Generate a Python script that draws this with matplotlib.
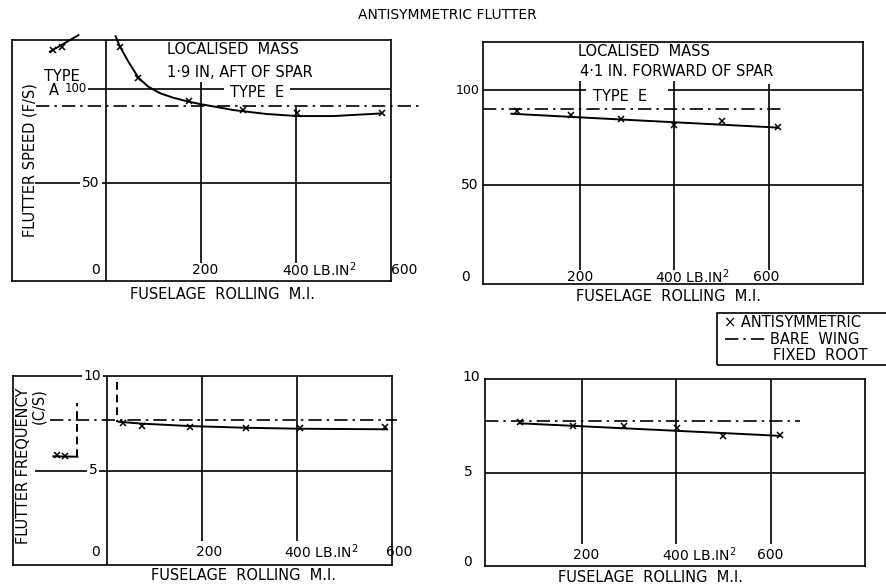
import matplotlib
matplotlib.use("Agg")
import matplotlib.pyplot as plt
from matplotlib.lines import Line2D
from matplotlib.patches import Rectangle

# ---- data ----
# top left: flutter speed, mass 1.9 in aft of spar
tl_mi = [29.5, 68, 175, 289, 403, 580]
tl_speed = [122.4, 106, 93.7, 88.8, 87, 87.4]
tl_curve_mi = [20, 29.5, 47, 68, 89, 114, 142, 175, 198, 268, 338, 403, 478, 580]
tl_curve_speed = [128, 122.4, 114.5, 106, 101.2, 97.7, 95.3, 93.2, 92, 88.8, 86.7, 85.6, 85.6, 87]
tl_typeA_mi = [-111, -93]
tl_typeA_speed = [120.7, 122.4]
tl_typeA_line_mi = [-118, -58]
tl_typeA_line_speed = [119.8, 128.6]
tl_bare = 90.9

# top right: flutter speed, mass 4.1 in forward of spar
tr_mi = [67, 182, 288, 400, 501, 620]
tr_speed = [89, 86.8, 85.1, 81.9, 83.9, 80.7]
tr_curve_mi = [55, 300, 620]
tr_curve_speed = [87.7, 84.5, 80.4]
tr_bare = 90.4

# bottom left: flutter frequency, mass aft
bl_mi = [33, 73, 174, 292, 406, 585]
bl_freq = [7.53, 7.35, 7.32, 7.23, 7.26, 7.32]
bl_curve_mi = [24, 73, 175, 294, 406, 589]
bl_curve_freq = [7.58, 7.48, 7.35, 7.26, 7.21, 7.18]
bl_typeA_mi = [-106, -88]
bl_typeA_freq = [5.82, 5.77]
bl_typeA_line_mi = [-113, -62.5]
bl_typeA_line_freq = [5.75, 5.73]
bl_jump_top = 9.7
bl_typeA_jump_top = 8.55
bl_bare = 7.67

# bottom right: flutter frequency, mass forward
br_mi = [69, 182, 290, 401, 500, 620]
br_freq = [7.68, 7.5, 7.48, 7.36, 6.95, 7.0]
br_curve_mi = [69, 401, 620]
br_curve_freq = [7.63, 7.23, 6.96]
br_bare = 7.75

mi_ticks = [200, 400, 600]
speed_ticks = [0, 50, 100]
freq_ticks = [0, 5, 10]
unit = r" LB.$\mathregular{IN^2}$"

# ---- figure ----
W, H = 886, 588
fig = plt.figure(figsize=(W / 100, H / 100), dpi=100)
plt.rcParams['font.family'] = ['DejaVu Sans']

LW = 1.2
DD = (0, (8, 3, 1.5, 3))
FS = 10.5    # annotation text
TS = 10      # tick labels
WHITE = dict(facecolor='white', edgecolor='none', pad=1.5)


def px(l, t, r, b):
    return [l / W, 1 - b / H, (r - l) / W, (b - t) / H]


def setup(ax, xlim, ylim):
    ax.set_xlim(*xlim)
    ax.set_ylim(*ylim)
    ax.set_xticks([])
    ax.set_yticks([])
    for s in ax.spines.values():
        s.set_linewidth(LW)


def ftext(x, y, s, size=FS, **kw):
    fig.text(x / W, 1 - y / H, s, fontsize=size, ha='center', va='center', **kw)


ftext(447, 15, "ANTISYMMETRIC FLUTTER", size=10)

# top left
ax = fig.add_axes(px(12, 40, 391, 281))
setup(ax, (-198, 600), (-2, 126))
ax.axvline(0, color='k', lw=LW)
ax.hlines(speed_ticks[1], -149, 600, color='k', lw=LW)
ax.hlines(speed_ticks[2], -38, 600, color='k', lw=LW)
ax.vlines(mi_ticks[0], 7.5, 104.7, color='k', lw=LW)
ax.vlines(mi_ticks[1], 7.5, 90.4, color='k', lw=LW)
ax.plot([-148, 665], [tl_bare, tl_bare], color='k', lw=LW, ls=DD, clip_on=False)
ax.plot(tl_curve_mi, tl_curve_speed, color='k', lw=1.4, clip_on=False)
ax.plot(tl_mi, tl_speed, 'x', color='k', ms=5, mew=1.1)
ax.plot(tl_typeA_line_mi, tl_typeA_line_speed, color='k', lw=1.4, clip_on=False)
ax.plot(tl_typeA_mi, tl_typeA_speed, 'x', color='k', ms=5, mew=1.1)
ax.text(-23, 3.8, str(speed_ticks[0]), fontsize=TS, ha='center', va='center')
ax.text(-32, speed_ticks[1], str(speed_ticks[1]), fontsize=TS, ha='center', va='center', bbox=WHITE)
ax.text(-40, speed_ticks[2], str(speed_ticks[2]), fontsize=8.5, ha='right', va='center')
ax.text(-110, 99.4, "A", fontsize=FS, ha='center', va='center')
ax.text(-93, 106.8, "TYPE", fontsize=FS, ha='center', va='center')
ax.text(208, 3.8, str(mi_ticks[0]), fontsize=TS, ha='center', va='center')
ax.text(371, 3.8, str(mi_ticks[1]) + unit, fontsize=TS, ha='left', va='center')
ax.text(627, 3.8, str(mi_ticks[2]), fontsize=TS, ha='center', va='center')
ax.text(267, 120.7, "LOCALISED  MASS", fontsize=FS, ha='center', va='center')
ax.text(282, 109, "1·9 IN, AFT OF SPAR", fontsize=FS, ha='center', va='center', bbox=WHITE)
ax.text(318, 98.3, "TYPE  E", fontsize=FS, ha='center', va='center',
        bbox=dict(facecolor='white', edgecolor='none', pad=4))
ftext(30, 160, "FLUTTER SPEED (F/S)", rotation=90)
ftext(222, 295, "FUSELAGE  ROLLING  M.I.")

# top right
ax = fig.add_axes(px(483, 42, 863, 284))
setup(ax, (-5, 800), (-2, 125.5))
ax.hlines(speed_ticks[2], -5, 214, color='k', lw=LW)
ax.hlines(speed_ticks[2], 387, 800, color='k', lw=LW)
ax.hlines(speed_ticks[1], -5, 800, color='k', lw=LW)
ax.vlines(mi_ticks[0], 5.4, 110.5, color='k', lw=LW)
ax.vlines(mi_ticks[1], 5.4, 115, color='k', lw=LW)
ax.vlines(mi_ticks[2], 5.4, 103.6, color='k', lw=LW)
ax.plot([-5, 630], [tr_bare, tr_bare], color='k', lw=LW, ls=DD)
ax.plot(tr_curve_mi, tr_curve_speed, color='k', lw=1.4)
ax.plot(tr_mi, tr_speed, 'x', color='k', ms=5, mew=1.1)
ax.text(-43, 1.8, str(speed_ticks[0]), fontsize=TS, ha='center', va='center')
ax.text(-14, speed_ticks[1], str(speed_ticks[1]), fontsize=TS, ha='right', va='center')
ax.text(-12, speed_ticks[2], str(speed_ticks[2]), fontsize=9, ha='right', va='center')
ax.text(200, 1.8, str(mi_ticks[0]), fontsize=TS, ha='center', va='center')
ax.text(360, 1.8, str(mi_ticks[1]) + unit, fontsize=TS, ha='left', va='center')
ax.text(594, 1.8, str(mi_ticks[2]), fontsize=TS, ha='center', va='center')
ax.text(336, 120.4, "LOCALISED  MASS", fontsize=FS, ha='center', va='center')
ax.text(406, 109.9, "4·1 IN. FORWARD OF SPAR", fontsize=FS, ha='center', va='center', bbox=WHITE)
ax.text(285, 96.7, "TYPE  E", fontsize=FS, ha='center', va='center')
ftext(668, 297, "FUSELAGE  ROLLING  M.I.")

# bottom left
ax = fig.add_axes(px(13, 376, 392, 565))
setup(ax, (-198, 600), (0, 10))
ax.axvline(0, color='k', lw=LW)
ax.hlines(freq_ticks[1], -152, 600, color='k', lw=LW)
ax.vlines(mi_ticks[0], 1.25, 10, color='k', lw=LW)
ax.vlines(mi_ticks[1], 1.25, 10, color='k', lw=LW)
ax.plot([-120, 610], [bl_bare, bl_bare], color='k', lw=LW, ls=DD, clip_on=False)
ax.plot([bl_curve_mi[0] - 4] * 2, [bl_jump_top, bl_curve_freq[0]], color='k', lw=1.4, ls=(0, (4, 2.5)))
ax.plot(bl_curve_mi, bl_curve_freq, color='k', lw=1.4)
ax.plot(bl_mi, bl_freq, 'x', color='k', ms=5, mew=1.1)
ax.plot(bl_typeA_line_mi, bl_typeA_line_freq, color='k', lw=1.4)
ax.plot([bl_typeA_line_mi[-1]] * 2, [bl_typeA_line_freq[-1], bl_typeA_jump_top], color='k', lw=1.4,
        ls=(0, (4, 2.5)))
ax.plot(bl_typeA_mi, bl_typeA_freq, 'x', color='k', ms=5, mew=1.1)
ax.text(-25, 0.7, str(freq_ticks[0]), fontsize=TS, ha='center', va='center')
ax.text(-29.5, freq_ticks[1], str(freq_ticks[1]), fontsize=TS, ha='center', va='center', bbox=WHITE)
ax.text(-30.5, freq_ticks[2], str(freq_ticks[2]), fontsize=TS, ha='center', va='center', bbox=WHITE)
ax.text(215, 0.7, str(mi_ticks[0]), fontsize=TS, ha='center', va='center')
ax.text(373, 0.7, str(mi_ticks[1]) + unit, fontsize=TS, ha='left', va='center')
ax.text(615, 0.7, str(mi_ticks[2]), fontsize=TS, ha='center', va='center')
fig.text(31 / W, 1 - 466 / H, "FLUTTER FREQUENCY\n(C/S)", fontsize=FS, rotation=90,
         ha='center', va='center', multialignment='right', linespacing=1.0)
ftext(243, 576, "FUSELAGE  ROLLING  M.I.")

# bottom right
ax = fig.add_axes(px(485, 379, 865, 566))
setup(ax, (-5, 800), (0, 10))
ax.hlines(freq_ticks[1], -5, 800, color='k', lw=LW)
for m in mi_ticks:
    ax.vlines(m, 1.2, 10, color='k', lw=LW)
ax.plot([-5, 662], [br_bare, br_bare], color='k', lw=LW, ls=DD)
ax.plot(br_curve_mi, br_curve_freq, color='k', lw=1.4)
ax.plot(br_mi, br_freq, 'x', color='k', ms=5, mew=1.1)
ax.text(-43, 0.2, str(freq_ticks[0]), fontsize=TS, ha='center', va='center')
ax.text(-40, freq_ticks[1], str(freq_ticks[1]), fontsize=TS, ha='center', va='center')
ax.text(-35, 10.1, str(freq_ticks[2]), fontsize=TS, ha='center', va='center')
ax.text(209, 0.6, str(mi_ticks[0]), fontsize=TS, ha='center', va='center')
ax.text(370, 0.6, str(mi_ticks[1]) + unit, fontsize=TS, ha='left', va='center')
ax.text(600, 0.6, str(mi_ticks[2]), fontsize=TS, ha='center', va='center')
ftext(650, 578, "FUSELAGE  ROLLING  M.I.")

# legend box
fig.add_artist(Rectangle((717 / W, 1 - 365 / H), 180 / W, 52 / H, fill=False, lw=LW,
                         edgecolor='k', transform=fig.transFigure))
fig.text(724 / W, 1 - 322 / H, "× ANTISYMMETRIC", fontsize=FS, va='center')
fig.add_artist(Line2D([725 / W, 765 / W], [1 - 339 / H] * 2, color='k', lw=LW, ls=DD))
fig.text(770 / W, 1 - 339 / H, "BARE  WING", fontsize=FS, va='center')
fig.text(773 / W, 1 - 356 / H, "FIXED  ROOT", fontsize=FS, va='center')

fig.savefig("out.png", dpi=100)
